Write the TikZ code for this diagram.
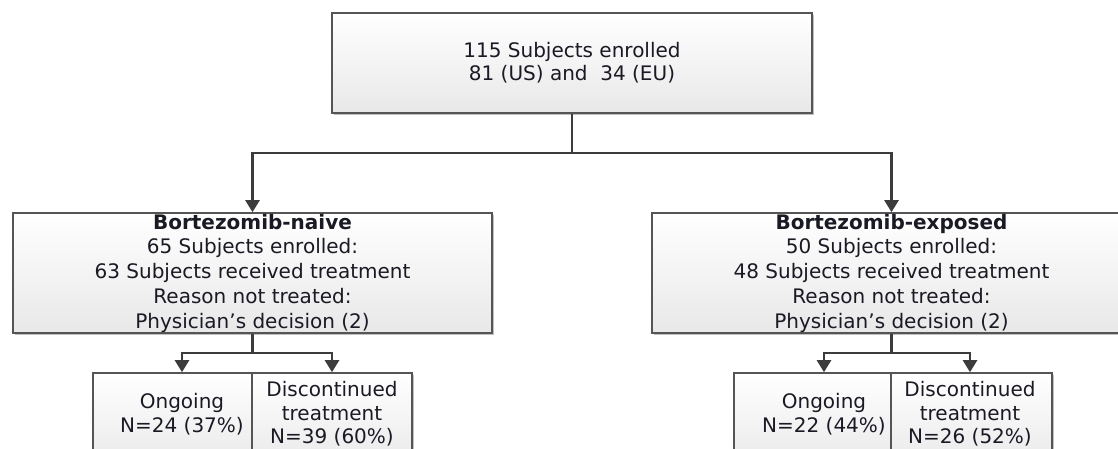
\documentclass[tikz,border=0pt]{standalone}
\usepackage{fontspec}
\setmainfont{DejaVu Sans}
\usetikzlibrary{arrows.meta,shadows}
\definecolor{boxline}{HTML}{555555}
\definecolor{arrowc}{HTML}{3C3C3C}
\definecolor{txt}{HTML}{1A1A24}
\tikzset{
  shadowed/.style={drop shadow={shadow xshift=2pt, shadow yshift=-2pt, fill=black!45, opacity=0.55}},
  box/.style={draw=boxline, line width=1.6pt, top color=white, bottom color=black!9,
    inner sep=0pt, align=center, text=txt, font=\fontsize{20}{24.75}\selectfont, shadowed},
  cell/.style={draw=boxline, line width=1.6pt, top color=white, bottom color=black!8,
    inner sep=0pt, shadowed},
  celltext/.style={align=center, text=txt, inner sep=0pt, font=\fontsize{20}{23.5}\selectfont},
  conn/.style={draw=arrowc, line width=2.4pt},
  arr/.style={conn, -{Triangle[length=12pt,width=14pt]}},
}
\begin{document}
\begin{tikzpicture}[x=1pt,y=-1pt]
\useasboundingbox (0,0) rectangle (1118,448);
\clip (0,0) rectangle (1118,448);

% top box
\node[box, minimum width=480pt, minimum height=100pt, font=\fontsize{20}{23}\selectfont]
  (top) at (572,63) {115 Subjects enrolled\\81 (US) and\ \ 34 (EU)};

% group boxes
\node[box, minimum width=479pt, minimum height=120pt] (naive) at (252.5,273)
  {{\bfseries Bortezomib-naive}\\65 Subjects enrolled:\\63 Subjects received treatment\\Reason not treated:\\Physician’s decision (2)};
\node[box, minimum width=479pt, minimum height=120pt] (exposed) at (891.5,273)
  {{\bfseries Bortezomib-exposed}\\50 Subjects enrolled:\\48 Subjects received treatment\\Reason not treated:\\Physician’s decision (2)};

% outcome cells
\node[cell, minimum width=159pt, minimum height=87pt] (nOngBox) at (172.5,416.5) {};
\node[cell, minimum width=160pt, minimum height=87pt] (nDisBox) at (332,416.5) {};
\node[cell, minimum width=157pt, minimum height=87pt] (eOngBox) at (812.5,416.5) {};
\node[cell, minimum width=161pt, minimum height=87pt] (eDisBox) at (971.5,416.5) {};

\node[celltext] (nOng) at (182,414) {Ongoing\\N=24 (37\%)};
\node[celltext] (nDis) at (332,414) {Discontinued\\treatment\\N=39 (60\%)};
\node[celltext] (eOng) at (824,414) {Ongoing\\N=22 (44\%)};
\node[celltext] (eDis) at (970,414) {Discontinued\\treatment\\N=26 (52\%)};

% connectors
\coordinate (tj) at (572,153);
\draw[conn] (top.south) -- (tj);
\draw[arr] (tj) -| (naive.north);
\draw[arr] (tj) -| (exposed.north);

\coordinate (nj) at (252.5,353);
\draw[conn] (naive.south) -- (nj);
\draw[arr] (nj) -| (nOng |- nOngBox.north);
\draw[arr] (nj) -| (nDis |- nDisBox.north);

\coordinate (ej) at (891.5,353);
\draw[conn] (exposed.south) -- (ej);
\draw[arr] (ej) -| (eOng |- eOngBox.north);
\draw[arr] (ej) -| (eDis |- eDisBox.north);
\end{tikzpicture}
\end{document}
